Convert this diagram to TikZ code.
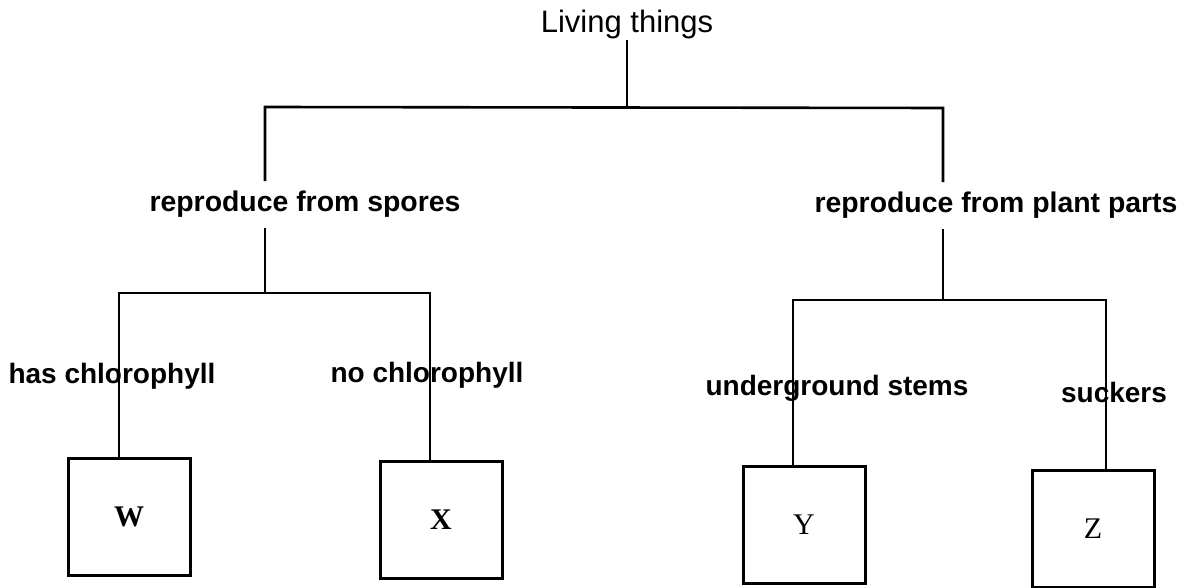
\documentclass[tikz,border=0pt]{standalone}
\usepackage{fontspec}
\setmainfont{Liberation Sans}
\newfontfamily\letterfont{Liberation Serif}
\usetikzlibrary{positioning,calc}

\begin{document}
\begin{tikzpicture}[
  x=0.5pt, y=-0.5pt,
  title/.style={font=\fontsize{15.5}{18}\selectfont, anchor=base, inner sep=0pt},
  branch/.style={font=\bfseries\fontsize{14.2}{17}\selectfont, anchor=base,
              inner xsep=2pt, inner ysep=5pt},
  trait/.style={font=\bfseries\fontsize{14}{17}\selectfont, anchor=base, inner sep=1pt},
  leaf/.style={rectangle, draw=black, line width=1.5pt, minimum width=61pt,
              minimum height=58.5pt, font=\letterfont\fontsize{15}{18}\selectfont},
  link/.style={line width=1.3pt, black},
]
\useasboundingbox (0,0) rectangle (1179,588);

% Top of the key
\node[title] (living) at (627,33) {Living things};

% Bends of the connectors
\coordinate (c1) at (265,107);
\coordinate (c2) at (943,108);
\coordinate (c3) at (119,293);
\coordinate (c4) at (430,293);
\coordinate (c5) at (793,300);
\coordinate (c6) at (1106,300);

% First split
\node[branch] (spores) at (305,212) {reproduce from spores};
\node[branch] (plant) at (996,213) {reproduce from plant parts};

% Second split
\node[trait] (haschl) at (112,384) {has chlorophyll};
\node[trait] (nochl) at (427,383) {no chlorophyll};
\node[trait] (stems) at (837,396) {underground stems};
\node[trait] (suckers) at (1114,402) {suckers};

% Groups
\node[leaf] (W) at (129,517) {\textbf{W}};
\node[leaf] (X) at (441,520) {\textbf{X}};
\node[leaf] (Y) at (804,525) {Y};
\node[leaf] (Z) at (1093,529) {Z};

% Connectors
\draw[link] (living) -- (living |- c1);
\draw[link] (spores.north -| c1) -- (c1) -- (c2) -- (plant.north -| c2);
\draw[link] (spores.south -| c1) -- (c1 |- c3);
\draw[link] (plant.south -| c2) -- (c2 |- c5);
\draw[link] (W.north -| c3) -- (c3) -- (c4) -- (X.north -| c4);
\draw[link] (Y.north -| c5) -- (c5) -- (c6) -- (Z.north -| c6);

\end{tikzpicture}
\end{document}
